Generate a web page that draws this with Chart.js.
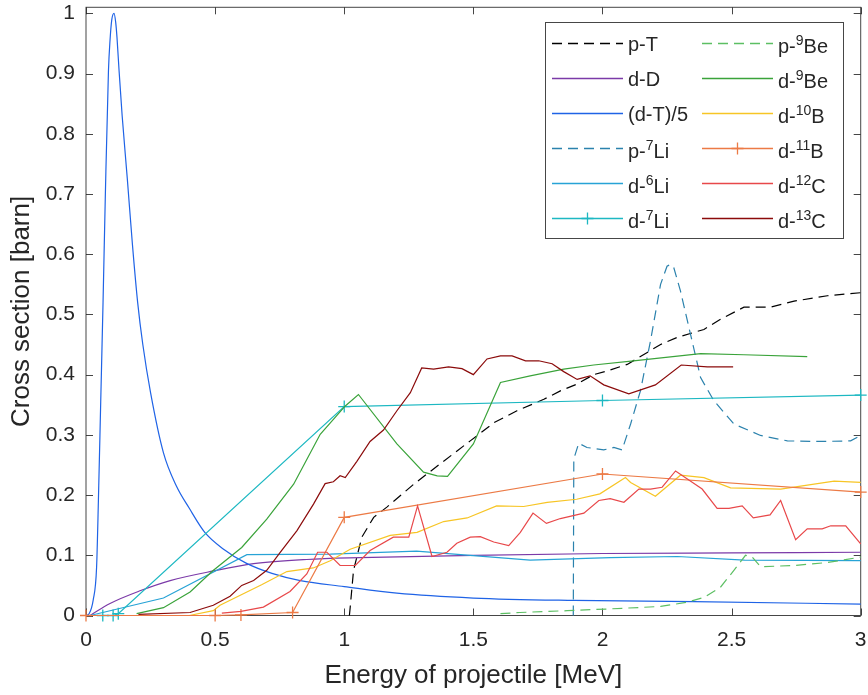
<!DOCTYPE html>
<html><head><meta charset="utf-8">
<script src="https://cdn.jsdelivr.net/npm/chart.js@4.4.1/dist/chart.umd.min.js"></script>
<style>html,body{margin:0;padding:0;background:#fff;overflow:hidden}#wrap{width:868px;height:695px;position:relative}</style>
</head><body><div id="wrap"><canvas id="c" width="868" height="695"></canvas></div>
<script>
// ---- tick labels ----
const xTicks = [0, 0.5, 1, 1.5, 2, 2.5, 3];
const yTicks = [0, 0.1, 0.2, 0.3, 0.4, 0.5, 0.6, 0.7, 0.8, 0.9, 1];
const xTitle = 'Energy of projectile [MeV]';
const yTitle = 'Cross section [barn]';

// ---- series data: energy [MeV] and cross section [barn] ----
const pT_E = [1.02, 1.023, 1.036, 1.068, 1.114, 1.165, 1.269, 1.372, 1.488, 1.579, 1.669, 1.773, 1.837, 1.90, 1.966, 2.018, 2.096, 2.225, 2.29, 2.393, 2.457, 2.548, 2.651, 2.742, 2.871, 3.0];
const pT_S = [0, 0.013, 0.075, 0.13, 0.163, 0.18, 0.218, 0.252, 0.29, 0.32, 0.34, 0.359, 0.373, 0.384, 0.40, 0.406, 0.417, 0.45, 0.462, 0.475, 0.492, 0.512, 0.512, 0.522, 0.531, 0.536];

const dD_E = [0.016, 0.093, 0.209, 0.326, 0.494, 0.649, 0.855, 1.06, 1.5, 2.0, 2.5, 3.0];
const dD_S = [0, 0.02, 0.041, 0.058, 0.074, 0.086, 0.093, 0.096, 0.1, 0.103, 0.104, 0.105];

const dT_E = [0, 0.012, 0.028, 0.041, 0.048, 0.057, 0.066, 0.075, 0.087, 0.093, 0.1, 0.1085, 0.115, 0.12, 0.128, 0.14, 0.16, 0.18, 0.2, 0.22, 0.25, 0.3, 0.35, 0.4, 0.46, 0.53, 0.62, 0.72, 0.83, 1.0, 1.204, 1.5, 1.89, 2.354, 3.0];
const dT_S = [0, 0.003, 0.026, 0.08, 0.19, 0.355, 0.52, 0.70, 0.905, 0.955, 0.99, 1.0, 0.985, 0.96, 0.905, 0.83, 0.725, 0.615, 0.52, 0.45, 0.37, 0.27, 0.215, 0.178, 0.138, 0.111, 0.087, 0.07, 0.058, 0.048, 0.037, 0.029, 0.025, 0.023, 0.019];

const pLi7_E = [1.887, 1.889, 1.908, 1.94, 2.005, 2.044, 2.076, 2.109, 2.147, 2.186, 2.225, 2.25, 2.263, 2.276, 2.302, 2.341, 2.38, 2.431, 2.509, 2.612, 2.716, 2.845, 2.961, 3.0];
const pLi7_S = [0, 0.26, 0.286, 0.279, 0.275, 0.279, 0.275, 0.318, 0.373, 0.456, 0.55, 0.58, 0.583, 0.578, 0.539, 0.467, 0.395, 0.357, 0.318, 0.299, 0.29, 0.289, 0.29, 0.299];

const dLi6_E = [0.016, 0.30, 0.623, 0.946, 1.28, 1.72, 2.03, 2.29, 2.55, 3.0];
const dLi6_S = [0, 0.029, 0.101, 0.102, 0.107, 0.092, 0.096, 0.098, 0.092, 0.091];

const dLi7_E = [0.065, 0.105, 0.125, 1.0, 2.0, 3.0];
const dLi7_S = [0, 0, 0.003, 0.347, 0.357, 0.366];

const pBe9_E = [1.605, 1.68, 1.863, 2.03, 2.225, 2.328, 2.393, 2.457, 2.509, 2.554, 2.58, 2.612, 2.742, 2.871, 3.0];
const pBe9_S = [0.003, 0.005, 0.008, 0.011, 0.015, 0.022, 0.03, 0.047, 0.075, 0.1, 0.097, 0.081, 0.083, 0.088, 0.097];

const dBe9_E = [0.196, 0.30, 0.403, 0.49, 0.603, 0.70, 0.804, 0.907, 1.004, 1.055, 1.204, 1.307, 1.36, 1.40, 1.50, 1.605, 1.72, 1.85, 1.966, 2.12, 2.38, 2.548, 2.793];
const dBe9_S = [0.003, 0.013, 0.039, 0.074, 0.113, 0.16, 0.218, 0.301, 0.348, 0.367, 0.285, 0.238, 0.232, 0.231, 0.285, 0.387, 0.398, 0.409, 0.416, 0.423, 0.435, 0.433, 0.43];

const dB10_E = [0.40, 0.493, 0.519, 0.68, 0.778, 0.88, 0.946, 1.023, 1.178, 1.282, 1.385, 1.476, 1.59, 1.695, 1.786, 1.90, 1.99, 2.089, 2.109, 2.205, 2.302, 2.393, 2.496, 2.69, 2.897, 3.0];
const dB10_S = [0, 0.008, 0.017, 0.051, 0.073, 0.079, 0.091, 0.11, 0.133, 0.138, 0.156, 0.162, 0.182, 0.181, 0.188, 0.193, 0.202, 0.229, 0.221, 0.198, 0.233, 0.229, 0.212, 0.21, 0.223, 0.221];

const dB11_E = [0, 0.5, 0.6, 0.8, 1.0, 2.0, 3.0];
const dB11_S = [0, 0, 0.001, 0.005, 0.163, 0.235, 0.205];

const dC12_E = [0.526, 0.60, 0.687, 0.79, 0.855, 0.897, 0.933, 0.984, 1.043, 1.10, 1.19, 1.25, 1.284, 1.34, 1.398, 1.436, 1.488, 1.527, 1.579, 1.637, 1.682, 1.731, 1.783, 1.837, 1.928, 1.986, 2.03, 2.083, 2.141, 2.186, 2.231, 2.283, 2.386, 2.444, 2.49, 2.541, 2.584, 2.649, 2.69, 2.748, 2.793, 2.851, 2.884, 2.942, 3.0];
const dC12_S = [0.004, 0.007, 0.014, 0.04, 0.069, 0.105, 0.105, 0.083, 0.083, 0.108, 0.13, 0.13, 0.182, 0.098, 0.105, 0.12, 0.13, 0.131, 0.122, 0.116, 0.138, 0.17, 0.153, 0.161, 0.17, 0.191, 0.194, 0.188, 0.21, 0.21, 0.213, 0.24, 0.21, 0.178, 0.178, 0.182, 0.162, 0.167, 0.191, 0.126, 0.144, 0.144, 0.149, 0.149, 0.119];

const dC13_E = [0.203, 0.403, 0.493, 0.558, 0.603, 0.649, 0.70, 0.752, 0.817, 0.881, 0.926, 0.958, 0.984, 1.004, 1.049, 1.10, 1.152, 1.204, 1.256, 1.30, 1.346, 1.404, 1.456, 1.50, 1.553, 1.605, 1.65, 1.702, 1.753, 1.805, 1.85, 1.902, 1.952, 2.005, 2.102, 2.205, 2.305, 2.406, 2.506];
const dC13_S = [0.002, 0.005, 0.017, 0.032, 0.05, 0.058, 0.075, 0.105, 0.141, 0.185, 0.219, 0.222, 0.232, 0.229, 0.256, 0.289, 0.308, 0.34, 0.37, 0.411, 0.409, 0.413, 0.41, 0.40, 0.426, 0.431, 0.431, 0.423, 0.423, 0.418, 0.405, 0.392, 0.398, 0.383, 0.368, 0.383, 0.416, 0.413, 0.413];

// ---- series definitions (label parts, style) ----
const series = [
  {pre:'p-T', sup:'', post:'', E:pT_E, S:pT_S, color:'#000000', dash:[10,6]},
  {pre:'d-D', sup:'', post:'', E:dD_E, S:dD_S, color:'#7b3aa8', smooth:true},
  {pre:'(d-T)/5', sup:'', post:'', E:dT_E, S:dT_S, color:'#1f63e6', smooth:true},
  {pre:'p-', sup:'7', post:'Li', E:pLi7_E, S:pLi7_S, color:'#2b82ad', dash:[10,6]},
  {pre:'d-', sup:'6', post:'Li', E:dLi6_E, S:dLi6_S, color:'#27a3d6'},
  {pre:'d-', sup:'7', post:'Li', E:dLi7_E, S:dLi7_S, color:'#1db8c2', marker:true},
  {pre:'p-', sup:'9', post:'Be', E:pBe9_E, S:pBe9_S, color:'#5cbf63', dash:[10,6]},
  {pre:'d-', sup:'9', post:'Be', E:dBe9_E, S:dBe9_S, color:'#3aa33a'},
  {pre:'d-', sup:'10', post:'B', E:dB10_E, S:dB10_S, color:'#f7c525'},
  {pre:'d-', sup:'11', post:'B', E:dB11_E, S:dB11_S, color:'#ec7a45', marker:true},
  {pre:'d-', sup:'12', post:'C', E:dC12_E, S:dC12_S, color:'#e8484a'},
  {pre:'d-', sup:'13', post:'C', E:dC13_E, S:dC13_S, color:'#8b0b0b'}
];

const FONT = '"Liberation Sans", Arial, Helvetica, sans-serif';
const AXC = '#262626';
const N = series.length;

const datasets = series.map((s, i) => ({
  label: s.pre + s.sup + s.post,
  data: s.E.map((e, k) => ({x: e, y: s.S[k]})),
  showLine: true,
  borderColor: s.color,
  backgroundColor: s.color,
  borderWidth: 1.2,
  borderDash: s.dash || [],
  pointRadius: s.marker ? 6 : 0,
  pointStyle: 'cross',
  pointBorderColor: s.color,
  pointBorderWidth: 1.3,
  cubicInterpolationMode: s.smooth ? 'monotone' : 'default',
  tension: 0,
  clip: false,
  order: N - i
}));

const frame = {
  id: 'frame',
  beforeDatasetsDraw(chart) {
    const {ctx, chartArea: a, scales: {x, y}} = chart;
    ctx.save();
    ctx.strokeStyle = AXC;
    ctx.lineWidth = 1;
    ctx.globalAlpha = 0.85;
    ctx.strokeRect(a.left, a.top, a.right - a.left, a.bottom - a.top);
    const L = 7;
    ctx.beginPath();
    xTicks.forEach(v => {
      const px = Math.round(x.getPixelForValue(v)) + 0.5;
      ctx.moveTo(px, a.bottom); ctx.lineTo(px, a.bottom - L);
      ctx.moveTo(px, a.top); ctx.lineTo(px, a.top + L);
    });
    yTicks.forEach(v => {
      const py = Math.round(y.getPixelForValue(v)) + 0.5;
      ctx.moveTo(a.left, py); ctx.lineTo(a.left + L, py);
      ctx.moveTo(a.right, py); ctx.lineTo(a.right - L, py);
    });
    ctx.stroke();
    ctx.restore();
  },
  afterDraw(chart) {
    const {ctx, chartArea: a} = chart;
    ctx.save();
    ctx.fillStyle = AXC;
    ctx.font = '26px ' + FONT;
    ctx.textAlign = 'center';
    ctx.textBaseline = 'middle';
    ctx.fillText(xTitle, (a.left + a.right) / 2, 676);
    ctx.translate(22, (a.top + a.bottom) / 2);
    ctx.rotate(-Math.PI / 2);
    ctx.fillText(yTitle, 0, 0);
    ctx.restore();
  }
};

const legendBox = {
  id: 'legendBox',
  afterDatasetsDraw(chart) {
    const {ctx} = chart;
    const bx = 545, by = 22, bw = 298, bh = 216;
    ctx.save();
    ctx.fillStyle = '#fff';
    ctx.fillRect(bx, by, bw, bh);
    ctx.strokeStyle = AXC;
    ctx.lineWidth = 1;
    ctx.globalAlpha = 0.85;
    ctx.strokeRect(bx + 0.5, by + 0.5, bw, bh);
    ctx.globalAlpha = 1;
    series.forEach((s, i) => {
      const col = Math.floor(i / 6), row = i % 6;
      const lx0 = col ? 702 : 552, lx1 = lx0 + 71;
      const ly = 43.5 + row * 35;
      ctx.strokeStyle = s.color;
      ctx.lineWidth = 1.3;
      ctx.setLineDash(s.dash || []);
      ctx.beginPath(); ctx.moveTo(lx0, ly); ctx.lineTo(lx1, ly); ctx.stroke();
      ctx.setLineDash([]);
      if (s.marker) {
        const mx = (lx0 + lx1) / 2;
        ctx.lineWidth = 1.3;
        ctx.beginPath();
        ctx.moveTo(mx - 6, ly); ctx.lineTo(mx + 6, ly);
        ctx.moveTo(mx, ly - 6); ctx.lineTo(mx, ly + 6);
        ctx.stroke();
      }
      ctx.fillStyle = AXC;
      ctx.textAlign = 'left';
      ctx.textBaseline = 'alphabetic';
      let tx = lx1 + 5;
      const base = ly + (s.sup ? 9.5 : 7);
      ctx.font = '20px ' + FONT;
      ctx.fillText(s.pre, tx, base);
      tx += ctx.measureText(s.pre).width;
      if (s.sup) {
        ctx.font = '14px ' + FONT;
        ctx.fillText(s.sup, tx, base - 8);
        tx += ctx.measureText(s.sup).width;
        ctx.font = '20px ' + FONT;
        ctx.fillText(s.post, tx, base);
      }
    });
    ctx.restore();
  }
};

new Chart(document.getElementById('c'), {
  type: 'scatter',
  data: {datasets},
  options: {
    responsive: false,
    animation: false,
    devicePixelRatio: 1,
    layout: {padding: {left: 0, right: 7, top: 3, bottom: 0}},
    plugins: {legend: {display: false}, tooltip: {enabled: false}},
    scales: {
      x: {
        type: 'linear', min: 0, max: 3,
        afterBuildTicks: s => { s.ticks = xTicks.map(v => ({value: v})); },
        afterFit: s => { s.height = 79.5; s.paddingLeft = 0; s.paddingRight = 0; },
        grid: {display: false, drawTicks: false},
        border: {display: false},
        ticks: {font: {family: FONT, size: 21}, color: AXC, padding: 12, maxRotation: 0, autoSkip: false, callback: v => String(v)}
      },
      y: {
        type: 'linear', min: 0, max: 1.01,
        afterBuildTicks: s => { s.ticks = yTicks.map(v => ({value: v})); },
        afterFit: s => { s.width = 86; s.paddingTop = 0; s.paddingBottom = 0; },
        grid: {display: false, drawTicks: false},
        border: {display: false},
        ticks: {font: {family: FONT, size: 21}, color: AXC, padding: 11, autoSkip: false, callback: v => String(v)}
      }
    }
  },
  plugins: [frame, legendBox]
});
</script>
</body></html>
